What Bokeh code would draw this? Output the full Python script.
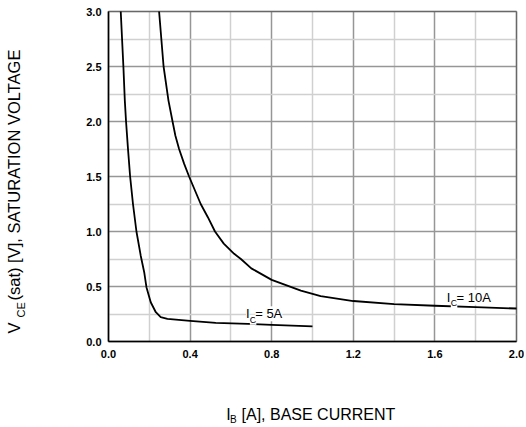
import math
from bokeh.plotting import figure
from bokeh.models import (Range1d, FixedTicker, NumeralTickFormatter, Label,
                          BoxAnnotation, Grid)
from bokeh.embed import file_html
from bokeh.resources import INLINE

# ---- data ----
ib_5a = [0.060, 0.073, 0.080, 0.086, 0.096, 0.106, 0.120, 0.137, 0.158, 0.175,
         0.186, 0.207, 0.232, 0.256, 0.289, 0.400, 0.526, 0.800, 1.000]
vce_5a = [3.00, 2.50, 2.19, 2.00, 1.74, 1.50, 1.25, 1.00, 0.78, 0.63,
          0.494, 0.357, 0.266, 0.221, 0.206, 0.187, 0.170, 0.152, 0.138]

ib_10a = [0.248, 0.270, 0.294, 0.314, 0.328, 0.346, 0.371, 0.395, 0.452, 0.487,
          0.522, 0.565, 0.616, 0.649, 0.700, 0.800, 0.943, 1.040, 1.200, 1.400,
          1.600, 1.800, 2.000]
vce_10a = [3.00, 2.50, 2.19, 2.00, 1.87, 1.75, 1.615, 1.50, 1.25, 1.13,
           1.00, 0.89, 0.797, 0.75, 0.665, 0.560, 0.462, 0.412, 0.368, 0.340,
           0.325, 0.312, 0.300]

x_ticks = [0.0, 0.4, 0.8, 1.2, 1.6, 2.0]
x_minor = [0.2, 0.6, 1.0, 1.4, 1.8]
y_ticks = [0.0, 0.5, 1.0, 1.5, 2.0, 2.5, 3.0]
y_minor = [0.25, 0.75, 1.25, 1.75, 2.25, 2.75]

X_MIN, X_MAX = 0.0, 2.0
Y_MIN, Y_MAX = 0.0, 3.0

# ---- layout (pixels) ----
W, H = 524, 425
PX_LEFT, PX_RIGHT = 108, 516      # where x = X_MIN / X_MAX fall
PX_TOP, PX_BOTTOM = 11, 341       # where y = Y_MAX / Y_MIN fall
sx = (PX_RIGHT - PX_LEFT) / (X_MAX - X_MIN)
sy = (PX_BOTTOM - PX_TOP) / (Y_MAX - Y_MIN)
xr = Range1d(X_MIN - PX_LEFT / sx, X_MAX + (W - PX_RIGHT) / sx)
yr = Range1d(Y_MIN - (H - PX_BOTTOM) / sy, Y_MAX + PX_TOP / sy)

FONT = "Liberation Sans"

p = figure(width=W, height=H, output_backend="svg", toolbar_location=None,
           x_range=xr, y_range=yr, min_border=0)
p.background_fill_color = "white"
p.border_fill_color = "white"
p.outline_line_color = None

p.xaxis.ticker = FixedTicker(ticks=x_ticks, minor_ticks=x_minor)
p.yaxis.ticker = FixedTicker(ticks=y_ticks, minor_ticks=y_minor)
p.xaxis.fixed_location = Y_MIN
p.yaxis.fixed_location = X_MIN
p.xaxis.bounds = (X_MIN, X_MAX)
p.yaxis.bounds = (Y_MIN, Y_MAX)
for ax in (p.xaxis[0], p.yaxis[0]):
    ax.formatter = NumeralTickFormatter(format="0.0")
    ax.major_label_text_font = FONT
    ax.major_label_text_font_style = "bold"
    ax.major_label_text_font_size = "11px"
    ax.major_label_text_color = "black"
    ax.major_tick_line_color = None
    ax.minor_tick_line_color = None
    ax.major_tick_out = 0
    ax.major_tick_in = 0
    ax.minor_tick_out = 0
    ax.minor_tick_in = 0
    ax.axis_line_color = "black"
    ax.axis_line_width = 1.5
p.xaxis.major_label_standoff = 8
p.yaxis.major_label_standoff = 7

MAJOR_C, MINOR_C = "#969696", "#d0d0d0"
if "cross_bounds" in Grid.properties():
    p.xgrid.cross_bounds = (Y_MIN, Y_MAX)
    p.ygrid.cross_bounds = (X_MIN, X_MAX)
    for g in (p.xgrid[0], p.ygrid[0]):
        g.grid_line_color = MAJOR_C
        g.grid_line_width = 1.5
        g.minor_grid_line_color = MINOR_C
        g.minor_grid_line_width = 1.5
else:
    p.xgrid.visible = False
    p.ygrid.visible = False
    p.multi_line([[v, v] for v in x_minor], [[Y_MIN, Y_MAX]] * len(x_minor),
                 line_color=MINOR_C, line_width=1.5, level="underlay")
    p.multi_line([[X_MIN, X_MAX]] * len(y_minor), [[v, v] for v in y_minor],
                 line_color=MINOR_C, line_width=1.5, level="underlay")
    p.multi_line([[v, v] for v in x_ticks], [[Y_MIN, Y_MAX]] * len(x_ticks),
                 line_color=MAJOR_C, line_width=1.5, level="underlay")
    p.multi_line([[X_MIN, X_MAX]] * len(y_ticks), [[v, v] for v in y_ticks],
                 line_color=MAJOR_C, line_width=1.5, level="underlay")

# plot-area border
p.add_layout(BoxAnnotation(left=X_MIN, right=X_MAX, bottom=Y_MIN, top=Y_MAX,
                           fill_color=None, line_color="black", line_width=1.5))

p.line(ib_5a, vce_5a, line_color="black", line_width=1.8, line_join="round")
p.line(ib_10a, vce_10a, line_color="black", line_width=1.8, line_join="round")


def lab(x, y, text, size, angle=0.0, bg=None):
    kw = {}
    if bg:
        kw["background_fill_color"] = bg
    p.add_layout(Label(x=x, y=y, text=text, text_font=FONT,
                       text_font_size=size, text_color="black",
                       text_align="left", text_baseline="alphabetic",
                       angle=angle, **kw))


# curve annotations
lab(0.674, 0.252, "I", "13px", bg="white")
lab(0.693, 0.197, "C", "9px", bg="white")
lab(0.719, 0.252, "= 5A", "13px", bg="white")

lab(1.658, 0.403, "I", "13px", bg="white")
lab(1.678, 0.348, "C", "9px", bg="white")
lab(1.706, 0.403, "= 10A", "13px", bg="white")

# x axis title
lab(0.577, -0.664, "I", "16px")
lab(0.595, -0.706, "B", "10px")
lab(0.652, -0.664, "[A], BASE CURRENT", "16px")

# y axis title (rotated)
rot = math.pi / 2
lab(-0.462, 0.072, "V", "16.5px", angle=rot)
lab(-0.430, 0.218, "CE", "11px", angle=rot)
lab(-0.462, 0.373, "(sat) [V], SATURATION VOLTAGE", "16.5px", angle=rot)

open("out.html", "w").write(file_html(p, INLINE))
